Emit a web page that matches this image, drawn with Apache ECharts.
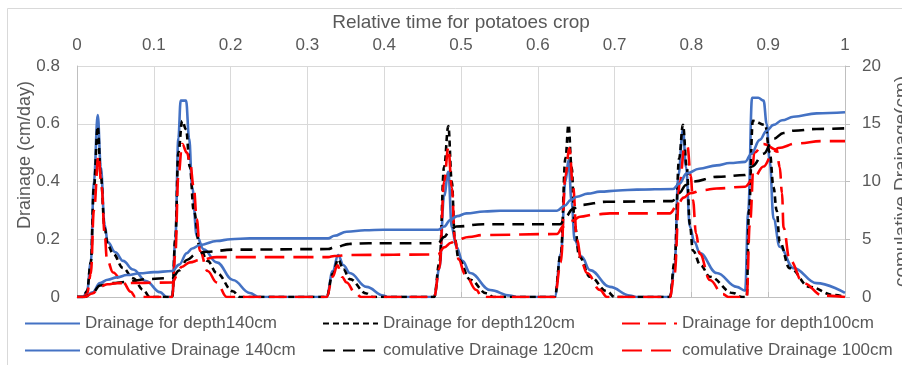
<!DOCTYPE html>
<html>
<head>
<meta charset="utf-8">
<script src="https://cdn.jsdelivr.net/npm/echarts@6/dist/echarts.min.js"></script>
<style>
  html, body { margin: 0; padding: 0; background: #fff; }
  #chart { width: 902px; height: 365px; }
</style>
</head>
<body>
<div id="chart"></div>
<script>
// x ticks / axis ranges
const xTicks = [0, 1, 0.1];
const leftRange = [0, 0.8, 0.2];
const rightRange = [0, 20, 5];

// drainage (cm/day), [relative time, value]
const drain140 = [[0,0],[0.008,0],[0.013,0.02],[0.018,0.12],[0.022,0.40],[0.027,0.63],[0.031,0.45],[0.036,0.25],[0.040,0.19],[0.050,0.155],[0.060,0.125],[0.073,0.095],[0.090,0.055],[0.108,0.017],[0.117,0],[0.124,0],[0.128,0.2],[0.132,0.55],[0.135,0.68],[0.142,0.68],[0.146,0.55],[0.150,0.38],[0.156,0.21],[0.165,0.165],[0.182,0.12],[0.203,0.059],[0.225,0.014],[0.237,0],[0.325,0],[0.333,0.09],[0.340,0.145],[0.347,0.11],[0.355,0.083],[0.377,0.035],[0.399,0.005],[0.405,0],[0.465,0],[0.472,0.1],[0.478,0.35],[0.4835,0.434],[0.488,0.24],[0.494,0.174],[0.502,0.125],[0.512,0.083],[0.538,0.024],[0.564,0.005],[0.572,0],[0.622,0],[0.630,0.15],[0.636,0.40],[0.640,0.474],[0.644,0.33],[0.648,0.197],[0.657,0.14],[0.668,0.093],[0.694,0.035],[0.720,0.005],[0.728,0],[0.772,0],[0.778,0.1],[0.783,0.42],[0.789,0.58],[0.793,0.45],[0.798,0.243],[0.804,0.19],[0.811,0.152],[0.833,0.083],[0.859,0.035],[0.870,0.022],[0.874,0.3],[0.879,0.69],[0.887,0.69],[0.894,0.68],[0.898,0.6],[0.902,0.47],[0.907,0.27],[0.915,0.174],[0.933,0.10],[0.963,0.048],[1.0,0.014]];
const drain120 = [[0,0],[0.008,0],[0.013,0.02],[0.018,0.12],[0.022,0.38],[0.027,0.59],[0.031,0.42],[0.036,0.24],[0.040,0.18],[0.047,0.15],[0.060,0.10],[0.073,0.065],[0.086,0.025],[0.095,0],[0.124,0],[0.128,0.2],[0.132,0.5],[0.137,0.61],[0.142,0.58],[0.147,0.45],[0.152,0.30],[0.160,0.17],[0.170,0.125],[0.182,0.083],[0.203,0.02],[0.212,0],[0.325,0],[0.333,0.08],[0.340,0.13],[0.347,0.095],[0.355,0.062],[0.377,0.012],[0.385,0],[0.465,0],[0.472,0.12],[0.478,0.45],[0.4835,0.592],[0.488,0.40],[0.492,0.2],[0.497,0.13],[0.512,0.06],[0.533,0.013],[0.542,0],[0.622,0],[0.630,0.15],[0.636,0.48],[0.640,0.596],[0.644,0.45],[0.648,0.25],[0.654,0.14],[0.668,0.07],[0.690,0.02],[0.700,0],[0.772,0],[0.778,0.12],[0.784,0.48],[0.789,0.596],[0.794,0.45],[0.798,0.25],[0.802,0.16],[0.812,0.11],[0.824,0.07],[0.854,0.014],[0.866,0],[0.872,0],[0.875,0.3],[0.880,0.61],[0.896,0.596],[0.902,0.5],[0.907,0.38],[0.911,0.30],[0.915,0.19],[0.928,0.10],[0.954,0.035],[0.985,0.007],[1.0,0]];
const drain100 = [[0,0],[0.008,0],[0.013,0.01],[0.018,0.08],[0.022,0.30],[0.028,0.49],[0.032,0.38],[0.036,0.22],[0.039,0.13],[0.047,0.085],[0.060,0.05],[0.070,0.018],[0.076,0],[0.124,0],[0.128,0.15],[0.132,0.42],[0.137,0.53],[0.143,0.50],[0.147,0.47],[0.152,0.38],[0.156,0.27],[0.160,0.16],[0.170,0.09],[0.182,0.05],[0.195,0],[0.325,0],[0.333,0.07],[0.339,0.11],[0.345,0.07],[0.351,0.05],[0.362,0.015],[0.370,0],[0.465,0],[0.472,0.1],[0.478,0.4],[0.4835,0.518],[0.488,0.38],[0.492,0.2],[0.497,0.13],[0.505,0.08],[0.520,0.024],[0.527,0],[0.622,0],[0.630,0.12],[0.636,0.42],[0.641,0.516],[0.646,0.38],[0.651,0.197],[0.657,0.12],[0.664,0.083],[0.681,0.024],[0.690,0],[0.772,0],[0.778,0.08],[0.785,0.4],[0.791,0.52],[0.795,0.52],[0.799,0.42],[0.802,0.336],[0.806,0.22],[0.811,0.15],[0.824,0.059],[0.841,0.01],[0.848,0],[0.872,0],[0.876,0.25],[0.882,0.50],[0.894,0.53],[0.911,0.51],[0.915,0.45],[0.918,0.36],[0.920,0.24],[0.928,0.128],[0.946,0.048],[0.971,0.005],[1.0,0]];

// cumulative drainage (cm)
const cum140 = [[0,0],[0.01,0],[0.02,0.4],[0.03,1.2],[0.04,1.5],[0.052,1.7],[0.065,1.9],[0.082,2.05],[0.1,2.15],[0.124,2.25],[0.133,2.8],[0.143,3.8],[0.150,4.2],[0.160,4.5],[0.182,4.85],[0.2,5.0],[0.225,5.08],[0.327,5.08],[0.335,5.3],[0.351,5.65],[0.375,5.78],[0.399,5.82],[0.47,5.82],[0.478,6.1],[0.486,6.67],[0.495,7.0],[0.507,7.24],[0.530,7.4],[0.551,7.47],[0.625,7.47],[0.635,7.9],[0.643,8.4],[0.651,8.68],[0.665,8.95],[0.681,9.12],[0.705,9.22],[0.729,9.3],[0.776,9.35],[0.784,9.8],[0.794,10.7],[0.81,11.1],[0.833,11.4],[0.850,11.6],[0.870,11.7],[0.878,12.4],[0.889,13.6],[0.898,14.4],[0.907,14.9],[0.918,15.3],[0.933,15.6],[0.963,15.9],[1.0,16.0]];
const cum120 = [[0,0],[0.01,0],[0.02,0.35],[0.03,1.0],[0.045,1.2],[0.065,1.3],[0.09,1.55],[0.124,1.64],[0.133,2.3],[0.143,3.2],[0.155,3.7],[0.169,3.92],[0.203,4.1],[0.327,4.15],[0.335,4.3],[0.355,4.6],[0.38,4.65],[0.47,4.65],[0.478,5.2],[0.486,5.8],[0.494,6.1],[0.529,6.3],[0.629,6.3],[0.637,7.0],[0.645,7.6],[0.655,7.97],[0.69,8.25],[0.775,8.3],[0.784,9.0],[0.793,9.7],[0.802,10.0],[0.833,10.4],[0.870,10.56],[0.879,11.3],[0.894,12.4],[0.907,13.7],[0.92,14.2],[0.933,14.4],[0.963,14.55],[1.0,14.6]];
const cum100 = [[0,0],[0.01,0],[0.02,0.3],[0.03,0.9],[0.04,1.1],[0.052,1.2],[0.124,1.25],[0.13,1.8],[0.136,2.6],[0.147,3.0],[0.16,3.2],[0.182,3.45],[0.327,3.45],[0.335,3.55],[0.355,3.64],[0.47,3.68],[0.478,4.3],[0.487,4.7],[0.494,4.94],[0.51,5.2],[0.529,5.37],[0.625,5.45],[0.633,6.1],[0.645,6.6],[0.655,6.95],[0.675,7.15],[0.694,7.24],[0.772,7.24],[0.781,7.9],[0.790,8.6],[0.798,8.98],[0.815,9.25],[0.833,9.4],[0.870,9.55],[0.88,10.2],[0.894,11.3],[0.905,12.3],[0.913,12.9],[0.937,13.3],[0.971,13.5],[1.0,13.5]];

const names = [
  "Drainage for depth140cm", "Drainage for depth120cm", "Drainage for depth100cm",
  "comulative Drainage 140cm", "comulative Drainage 120cm", "comulative Drainage 100cm"
];

const txt = "#595959";
const font = "Liberation Sans";

function line(name, data, color, dash, axis) {
  return {
    name: name,
    type: "line",
    yAxisIndex: axis,
    data: data,
    showSymbol: false,
    symbol: "none",
    smooth: 0.4,
    smoothMonotone: "x",
    lineStyle: { color: color, width: 2.6, type: dash },
    itemStyle: { color: color }
  };
}

function legendCol(left, items) {
  return {
    orient: "vertical",
    left: left,
    top: 315,
    padding: 0,
    itemWidth: 55,
    itemHeight: 14,
    itemGap: 10,
    data: items,
    itemStyle: { opacity: 0 },
    textStyle: { color: txt, fontSize: 17, fontFamily: font }
  };
}

const myChart = echarts.init(document.getElementById("chart"));
const option = {
  animation: false,
  backgroundColor: "#fff",
  graphic: [{
    type: "rect",
    shape: { x: 7.5, y: 8.5, width: 900, height: 360 },
    style: { fill: "none", stroke: "#d9d9d9", lineWidth: 1 }
  }, {
    // left axis title sits above the plot centre, as in the source
    type: "text",
    x: 25,
    y: 155,
    rotation: Math.PI / 2,
    style: {
      text: "Drainage (cm/day)",
      fill: txt,
      fontSize: 18,
      fontFamily: font,
      align: "center",
      verticalAlign: "middle"
    }
  }],
  grid: { left: 77, right: 57, top: 66, bottom: 68, containLabel: false, outerBoundsMode: "none" },
  legend: [
    legendCol(24, [names[0], names[3]]),
    legendCol(322, [names[1], names[4]]),
    legendCol(621, [names[2], names[5]])
  ],
  xAxis: {
    type: "value",
    position: "top",
    min: xTicks[0],
    max: xTicks[1],
    interval: xTicks[2],
    name: "Relative time for potatoes crop",
    nameLocation: "middle",
    nameGap: 28,
    nameTextStyle: { color: txt, fontSize: 19, fontFamily: font },
    axisLine: { show: true, lineStyle: { color: "#bfbfbf", width: 1 } },
    axisTick: { show: true, inside: false, length: 5, lineStyle: { color: "#bfbfbf" } },
    axisLabel: { color: txt, fontSize: 17, fontFamily: font, margin: 12 },
    splitLine: { show: true, lineStyle: { color: "#d9d9d9", width: 1 } }
  },
  yAxis: [{
    type: "value",
    position: "left",
    min: leftRange[0],
    max: leftRange[1],
    interval: leftRange[2],
    axisLine: { show: true, lineStyle: { color: "#bfbfbf", width: 1 } },
    axisTick: { show: false },
    axisLabel: { color: txt, fontSize: 17, fontFamily: font, margin: 17 },
    splitLine: { show: true, lineStyle: { color: "#d9d9d9", width: 1 } }
  }, {
    type: "value",
    position: "right",
    min: rightRange[0],
    max: rightRange[1],
    interval: rightRange[2],
    name: "comulative Drainage(cm)",
    nameLocation: "middle",
    nameGap: 32,
    nameRotate: 90,
    nameTextStyle: { color: txt, fontSize: 19, fontFamily: font },
    axisLine: { show: true, lineStyle: { color: "#bfbfbf", width: 1 } },
    axisTick: { show: true, length: 5, lineStyle: { color: "#bfbfbf" } },
    axisLabel: { color: txt, fontSize: 17, fontFamily: font, margin: 17 },
    splitLine: { show: false }
  }],
  series: [
    line(names[0], drain140, "#4472C4", "solid", 0),
    line(names[1], drain120, "#000000", [6, 4], 0),
    line(names[2], drain100, "#FF0000", [18, 8], 0),
    line(names[3], cum140, "#4472C4", "solid", 1),
    line(names[4], cum120, "#000000", [12, 8], 1),
    line(names[5], cum100, "#FF0000", [20, 9], 1)
  ]
};
option && myChart.setOption(option);
</script>
</body>
</html>
